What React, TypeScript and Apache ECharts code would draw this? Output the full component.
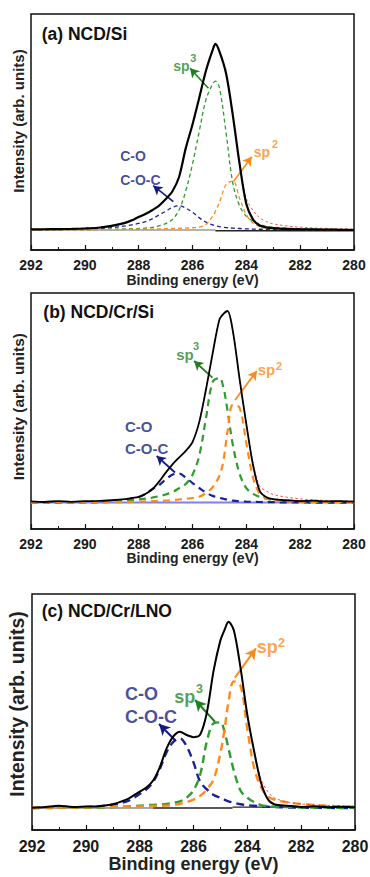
import React, { useEffect, useRef } from "react";
import * as echarts from "echarts";

// ---------- shared text / ticks ----------
const xTicks = [292, 290, 288, 286, 284, 282, 280];
const panelTitles = ["(a) NCD/Si", "(b) NCD/Cr/Si", "(c) NCD/Cr/LNO"];
const xAxisTitle = "Binding energy (eV)";
const yAxisTitle = "Intensity (arb. units)";
const labelTexts = ["C-O", "C-O-C", "sp", "3", "sp", "2"];

// ---------- panel (a) NCD/Si ----------
const energyA = [292, 291.5, 291, 290.5, 290, 289.5, 289, 288.5, 288.25, 288, 287.75, 287.5, 287.25, 287, 286.75, 286.5, 286.25, 286, 285.75, 285.5, 285.25, 285.15, 285, 284.75, 284.5, 284.25, 284, 283.75, 283.5, 283.25, 283, 282.5, 282, 281.5, 281, 280.5, 280];
const measuredA = [0.003, 0.004, 0.005, 0.006, 0.008, 0.012, 0.022, 0.038, 0.052, 0.07, 0.086, 0.106, 0.13, 0.165, 0.207, 0.285, 0.44, 0.567, 0.71, 0.856, 0.968, 1.0, 0.96, 0.84, 0.615, 0.355, 0.14, 0.056, 0.024, 0.014, 0.01, 0.006, 0.004, 0.003, 0.002, 0.001, 0.0];
const fitA = [0.004, 0.005, 0.006, 0.008, 0.01, 0.015, 0.025, 0.042, 0.055, 0.071, 0.087, 0.107, 0.131, 0.166, 0.207, 0.285, 0.44, 0.567, 0.71, 0.856, 0.968, 1.0, 0.96, 0.84, 0.615, 0.36, 0.17, 0.105, 0.065, 0.045, 0.033, 0.022, 0.015, 0.011, 0.008, 0.006, 0.005];
const sp3A = [0.0, 0.001, 0.001, 0.002, 0.002, 0.003, 0.004, 0.006, 0.007, 0.008, 0.01, 0.014, 0.022, 0.034, 0.056, 0.107, 0.21, 0.355, 0.53, 0.7, 0.785, 0.8, 0.765, 0.52, 0.25, 0.13, 0.074, 0.048, 0.03, 0.02, 0.015, 0.01, 0.007, 0.005, 0.004, 0.003, 0.002];
const sp2A = [0.0, 0.001, 0.001, 0.001, 0.001, 0.002, 0.002, 0.003, 0.004, 0.004, 0.005, 0.005, 0.006, 0.007, 0.008, 0.009, 0.01, 0.012, 0.015, 0.03, 0.075, 0.1, 0.148, 0.245, 0.263, 0.17, 0.082, 0.037, 0.018, 0.01, 0.007, 0.004, 0.003, 0.002, 0.001, 0.001, 0.0];
const coA = [0.0, 0.001, 0.002, 0.003, 0.005, 0.008, 0.013, 0.022, 0.028, 0.035, 0.045, 0.06, 0.08, 0.1, 0.122, 0.13, 0.118, 0.095, 0.066, 0.042, 0.027, 0.023, 0.018, 0.013, 0.01, 0.008, 0.006, 0.005, 0.004, 0.004, 0.003, 0.003, 0.002, 0.002, 0.002, 0.001, 0.001];
const bgStopsA = [292, 285.15, 280];
const bgLevelsA = [0, -0.004];
// arrows: [fromE, fromI, toE, toI] for C-O, sp3, sp2
const arrowsA = [[286.71, 0.152, 287.46, 0.238], [285.41, 0.762, 286.09, 0.869], [284.48, 0.26, 283.8, 0.394]];
const labelPosA = [[288.69, 0.4], [288.69, 0.269], [286.72, 0.884], [286.09, 0.927], [283.73, 0.419], [283.05, 0.462]];

// ---------- panel (b) NCD/Cr/Si ----------
const energyB = [292, 291.5, 291, 290.5, 290, 289.5, 289, 288.5, 288.25, 288, 287.75, 287.5, 287.25, 287, 286.75, 286.5, 286.25, 286, 285.75, 285.5, 285.25, 285, 284.85, 284.7, 284.5, 284.25, 284, 283.75, 283.5, 283.25, 283, 282.5, 282, 281.5, 281, 280.5, 280];
const measuredB = [0.006, 0.003, 0.008, 0.004, 0.007, 0.009, 0.012, 0.018, 0.024, 0.03, 0.045, 0.068, 0.108, 0.155, 0.198, 0.235, 0.27, 0.316, 0.42, 0.59, 0.78, 0.955, 0.985, 1.0, 0.895, 0.644, 0.41, 0.195, 0.06, 0.028, 0.018, 0.012, 0.008, 0.01, 0.006, 0.008, 0.005];
const fitB = [0.004, 0.004, 0.005, 0.005, 0.006, 0.008, 0.011, 0.017, 0.023, 0.03, 0.045, 0.068, 0.108, 0.155, 0.198, 0.235, 0.27, 0.316, 0.42, 0.59, 0.78, 0.955, 0.985, 0.998, 0.895, 0.644, 0.41, 0.205, 0.085, 0.06, 0.042, 0.028, 0.019, 0.014, 0.011, 0.009, 0.008];
const sp3B = [0.001, 0.001, 0.002, 0.002, 0.003, 0.004, 0.006, 0.01, 0.013, 0.017, 0.021, 0.026, 0.033, 0.042, 0.054, 0.075, 0.097, 0.145, 0.245, 0.44, 0.63, 0.65, 0.6, 0.48, 0.3, 0.15, 0.075, 0.045, 0.03, 0.02, 0.015, 0.01, 0.007, 0.005, 0.004, 0.003, 0.002];
const sp2B = [0.0, 0.0, 0.001, 0.001, 0.001, 0.002, 0.002, 0.003, 0.004, 0.005, 0.006, 0.007, 0.008, 0.01, 0.012, 0.016, 0.02, 0.024, 0.03, 0.05, 0.08, 0.14, 0.22, 0.37, 0.51, 0.495, 0.31, 0.13, 0.045, 0.022, 0.014, 0.008, 0.005, 0.004, 0.003, 0.002, 0.002];
const coB = [0.0, 0.0, 0.0, 0.001, 0.001, 0.002, 0.004, 0.012, 0.018, 0.028, 0.045, 0.07, 0.09, 0.12, 0.145, 0.152, 0.13, 0.102, 0.076, 0.052, 0.035, 0.025, 0.02, 0.015, 0.01, 0.007, 0.005, 0.004, 0.003, 0.002, 0.002, 0.001, 0.001, 0.0, 0.0, 0.0, 0.0];
const bgStopsB = [292, 280];
const bgLevelsB = [0];
const arrowsB = [[286.65, 0.157, 287.33, 0.243], [285.26, 0.652, 285.94, 0.739], [284.42, 0.535, 283.61, 0.687]];
const labelPosB = [[288.51, 0.395], [288.51, 0.283], [286.61, 0.775], [285.98, 0.815], [283.58, 0.693], [282.9, 0.714]];

// ---------- panel (c) NCD/Cr/LNO ----------
const energyC = [292, 291.5, 291, 290.5, 290, 289.5, 289, 288.5, 288.25, 288, 287.75, 287.5, 287.25, 287, 286.75, 286.5, 286.25, 286, 285.75, 285.5, 285.25, 285, 284.85, 284.7, 284.5, 284.25, 284, 283.75, 283.5, 283.25, 283, 282.5, 282, 281.5, 281, 280.5, 280];
const measuredC = [0.002, 0.006, 0.012, 0.006, 0.008, 0.01, 0.02, 0.045, 0.065, 0.088, 0.11, 0.148, 0.22, 0.32, 0.385, 0.41, 0.392, 0.38, 0.395, 0.515, 0.74, 0.9, 0.955, 1.0, 0.953, 0.75, 0.5, 0.306, 0.14, 0.05, 0.02, 0.012, 0.006, 0.009, 0.004, 0.007, 0.004];
const fitC = [0.004, 0.005, 0.006, 0.007, 0.008, 0.011, 0.021, 0.045, 0.065, 0.088, 0.11, 0.148, 0.22, 0.315, 0.38, 0.405, 0.395, 0.385, 0.395, 0.515, 0.74, 0.9, 0.955, 0.995, 0.95, 0.75, 0.5, 0.31, 0.16, 0.09, 0.055, 0.032, 0.022, 0.017, 0.014, 0.012, 0.01];
const sp3C = [0.0, 0.0, 0.001, 0.001, 0.002, 0.003, 0.005, 0.008, 0.01, 0.013, 0.015, 0.017, 0.019, 0.022, 0.028, 0.036, 0.056, 0.095, 0.18, 0.36, 0.455, 0.46, 0.41, 0.32, 0.2, 0.093, 0.055, 0.032, 0.016, 0.01, 0.007, 0.005, 0.003, 0.002, 0.002, 0.001, 0.001];
const sp2C = [0.002, 0.002, 0.003, 0.003, 0.004, 0.005, 0.006, 0.007, 0.008, 0.009, 0.01, 0.011, 0.012, 0.013, 0.017, 0.023, 0.032, 0.045, 0.065, 0.1, 0.155, 0.295, 0.42, 0.57, 0.68, 0.655, 0.425, 0.217, 0.114, 0.064, 0.045, 0.03, 0.022, 0.016, 0.012, 0.009, 0.007];
const coC = [0.0, 0.001, 0.002, 0.003, 0.005, 0.01, 0.018, 0.034, 0.052, 0.075, 0.1, 0.14, 0.21, 0.3, 0.355, 0.374, 0.33, 0.245, 0.14, 0.1, 0.07, 0.055, 0.045, 0.036, 0.028, 0.02, 0.015, 0.012, 0.009, 0.007, 0.005, 0.003, 0.002, 0.001, 0.001, 0.0, 0.0];
const bgStopsC = [292, 287.5, 284.55, 280];
const bgLevelsC = [0, 0, 0.005];
const arrowsC = [[286.69, 0.365, 287.28, 0.451], [285.2, 0.463, 285.94, 0.58], [284.46, 0.7, 283.68, 0.857]];
const labelPosC = [[288.545, 0.614], [288.545, 0.486], [286.72, 0.594], [285.91, 0.639], [283.65, 0.866], [282.86, 0.884]];

// ---------- styles ----------
const FONT = "'Liberation Sans', Arial, Helvetica, sans-serif";
const NAVY = "#18207f";
const GREEN_LINE = "#2f9c2f";
const GREEN_TXT = "#24882a";
const ORANGE = "#ff8a1a";
const RED = "#ff3030";
const ARROW_COLORS = ["#141a82", "#1f7f1f", "#ff8a1c"];
const LABEL_COLORS = [NAVY, NAVY, GREEN_TXT, GREEN_TXT, ORANGE, ORANGE];

const panels = [
  { energy: energyA, measured: measuredA, fit: fitA, sp3: sp3A, sp2: sp2A, co: coA, bgStops: bgStopsA, bgLevels: bgLevelsA, bgColors: ["#9a9a9a", "#222"], arrows: arrowsA, labels: labelPosA },
  { energy: energyB, measured: measuredB, fit: fitB, sp3: sp3B, sp2: sp2B, co: coB, bgStops: bgStopsB, bgLevels: bgLevelsB, bgColors: ["#7f7ff2"], arrows: arrowsB, labels: labelPosB },
  { energy: energyC, measured: measuredC, fit: fitC, sp3: sp3C, sp2: sp2C, co: coC, bgStops: bgStopsC, bgLevels: bgLevelsC, bgColors: ["#8a8a8a", "#222", "#222"], arrows: arrowsC, labels: labelPosC },
];

const layouts = [
  { left: 31, top: 14, yMin: -0.1075, yMax: 1.161, tickFont: 14, tickMargin: 8, nameFont: 14, nameGap: 21.5, yNameFont: 15, yNameX: 18.7, yNameY: 121, titleTop: 25, titleLeft: 41.7, labelFont: 14, supFont: 11, blackWidth: 2.2, dashWidth: 1.3, dash: [4, 3], arrowWidth: 1.6, arrowSize: [8, 9] },
  { left: 31, top: 293, yMin: -0.138, yMax: 1.094, tickFont: 14, tickMargin: 7.5, nameFont: 14, nameGap: 21, yNameFont: 15.4, yNameX: 18.7, yNameY: 406.7, titleTop: 302.7, titleLeft: 43.3, labelFont: 15, supFont: 11, blackWidth: 1.8, dashWidth: 2.2, dash: [7, 5], arrowWidth: 1.8, arrowSize: [8, 9] },
  { left: 32, top: 594, yMin: -0.118, yMax: 1.149, tickFont: 16, tickMargin: 8, nameFont: 18, nameGap: 25, yNameFont: 19.4, yNameX: 16.6, yNameY: 704, titleTop: 601.7, titleLeft: 41.7, labelFont: 18, supFont: 12.5, blackWidth: 2, dashWidth: 2.4, dash: [8, 5], arrowWidth: 2, arrowSize: [9, 11] },
];

const PLOT_W = 323;
const PLOT_H = 236;

const zip = (xs: number[], ys: number[]) => xs.map((x, i) => [x, ys[i]]);

function arrowMark(a: number[], color: string, L: any) {
  return {
    silent: true,
    symbol: ["none", "arrow"],
    symbolSize: L.arrowSize,
    label: { show: false },
    lineStyle: { color, width: L.arrowWidth, type: "solid" },
    emphasis: { disabled: true },
    data: [[{ coord: [a[0], a[1]] }, { coord: [a[2], a[3]] }]],
  };
}

function buildOption() {
  const xMin = Math.min(...xTicks);
  const xMax = Math.max(...xTicks);
  const xStep = Math.abs(xTicks[0] - xTicks[1]);

  const grid = layouts.map((L) => ({
    left: L.left,
    top: L.top,
    width: PLOT_W,
    height: PLOT_H,
    show: true,
    borderColor: "#111",
    borderWidth: 1.5,
    backgroundColor: "transparent",
    containLabel: false,
    outerBoundsMode: "none",
  }));

  const xAxis = layouts.map((L, i) => ({
    type: "value",
    gridIndex: i,
    min: xMin,
    max: xMax,
    interval: xStep,
    inverse: true,
    axisLine: { show: true, onZero: false, lineStyle: { color: "#111", width: 1.5 } },
    axisTick: { show: true, inside: true, length: 5, lineStyle: { color: "#111", width: 1.2 } },
    minorTick: { show: true, splitNumber: 2, length: 3, lineStyle: { color: "#111", width: 1 } },
    splitLine: { show: false },
    minorSplitLine: { show: false },
    axisLabel: { show: true, margin: L.tickMargin, fontSize: L.tickFont, fontWeight: "bold", color: "#1a1a1a", fontFamily: FONT },
    name: xAxisTitle,
    nameLocation: "middle",
    nameGap: L.nameGap,
    nameTextStyle: { fontSize: L.nameFont, fontWeight: "bold", color: "#222", fontFamily: FONT },
  }));

  const yAxis = layouts.map((L, i) => ({
    type: "value",
    gridIndex: i,
    min: L.yMin,
    max: L.yMax,
    show: false,
    splitLine: { show: false },
  }));

  const series: any[] = [];
  panels.forEach((p, i) => {
    const L = layouts[i];
    const base = { xAxisIndex: i, yAxisIndex: i, showSymbol: false, symbol: "none", silent: true, animation: false };
    // background (Shirley-type) segments
    p.bgLevels.forEach((lvl, k) => {
      series.push({
        ...base,
        type: "line",
        name: "background",
        z: 1,
        data: zip([p.bgStops[k], p.bgStops[k + 1]], [lvl, lvl]),
        lineStyle: { color: p.bgColors[k], width: i === 1 ? 2 : 1.4 },
      });
    });
    const dashStyle = (color: string) => ({ color, width: L.dashWidth, type: L.dash });
    series.push({
      ...base, type: "line", name: "C-O / C-O-C", z: 2, smooth: 0.35,
      data: zip(p.energy, p.co), lineStyle: dashStyle("#1a2296"),
      markLine: arrowMark(p.arrows[0], ARROW_COLORS[0], L),
    });
    series.push({
      ...base, type: "line", name: "sp3", z: 3, smooth: 0.35,
      data: zip(p.energy, p.sp3), lineStyle: dashStyle(GREEN_LINE),
      markLine: arrowMark(p.arrows[1], ARROW_COLORS[1], L),
    });
    series.push({
      ...base, type: "line", name: "sp2", z: 4, smooth: 0.35,
      data: zip(p.energy, p.sp2), lineStyle: dashStyle(ORANGE),
      markLine: arrowMark(p.arrows[2], ARROW_COLORS[2], L),
    });
    series.push({
      ...base, type: "line", name: "fit", z: 5, smooth: 0.35,
      data: zip(p.energy, p.fit), lineStyle: { color: RED, width: 1, type: [2.5, 2.5], opacity: 0.85 },
    });
    series.push({
      ...base, type: "line", name: "measured", z: 6, smooth: 0.3,
      data: zip(p.energy, p.measured), lineStyle: { color: "#000", width: L.blackWidth },
    });
    series.push({
      xAxisIndex: i, yAxisIndex: i, type: "scatter", name: "annotations", z: 10, silent: true,
      symbolSize: 0.1, itemStyle: { color: "rgba(0,0,0,0)" },
      data: p.labels.map((pos, k) => ({
        value: [pos[0], pos[1]],
        name: labelTexts[k],
        label: {
          show: true, position: "right", distance: 0, formatter: "{b}",
          color: LABEL_COLORS[k], fontSize: k === 3 || k === 5 ? L.supFont : L.labelFont,
          fontWeight: "bold", fontFamily: FONT,
        },
      })),
    });
  });

  const title = layouts.map((L, i) => ({
    text: panelTitles[i],
    left: L.titleLeft,
    top: L.titleTop,
    padding: 0,
    textStyle: { fontSize: 17.5, fontWeight: "bold", color: "#111", fontFamily: FONT },
  }));

  const graphic = layouts.map((L) => ({
    type: "text",
    x: L.yNameX,
    y: L.yNameY,
    rotation: Math.PI / 2,
    silent: true,
    style: {
      text: yAxisTitle,
      fontSize: L.yNameFont,
      fontWeight: "bold",
      fontFamily: FONT,
      fill: "#222",
      align: "center",
      verticalAlign: "middle",
      textAlign: "center",
      textVerticalAlign: "middle",
    },
  }));

  return {
    animation: false,
    backgroundColor: "#fff",
    title,
    grid,
    xAxis,
    yAxis,
    series,
    graphic,
  };
}

export default function App() {
  const ref = useRef<HTMLDivElement>(null);
  useEffect(() => {
    if (!ref.current) return;
    const chart = echarts.init(ref.current, undefined, { renderer: "svg" });
    chart.setOption(buildOption() as any);
    return () => chart.dispose();
  }, []);
  return (
    <div
      ref={ref}
      style={{ position: "absolute", left: 0, top: 0, width: 370, height: 877, background: "#fff" }}
    />
  );
}
